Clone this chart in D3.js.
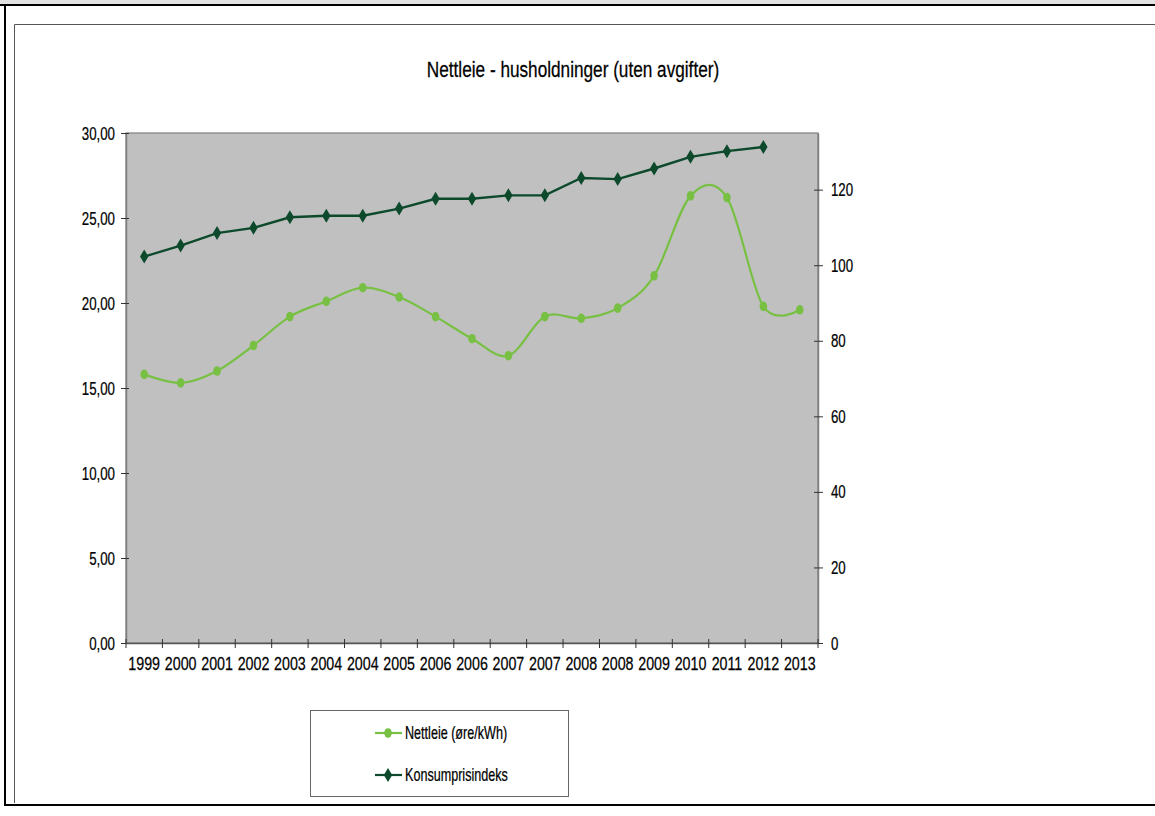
<!DOCTYPE html>
<html><head><meta charset="utf-8">
<script src="https://cdn.jsdelivr.net/npm/d3@7"></script>
<style>
html,body{margin:0;padding:0;background:#fff;}
svg{display:block;font-family:"Liberation Sans",Arial,sans-serif;}
text{stroke:#000;stroke-width:0.25px;fill:#000;}
</style></head>
<body>
<svg id="c" width="1155" height="816"></svg>
<script>
const title = "Nettleie - husholdninger (uten avgifter)";
const years = ["1999","2000","2001","2002","2003","2004","2004","2005","2006","2006","2007","2007","2008","2008","2009","2010","2011","2012","2013"];
const nettleie = [15.8,15.3,16.0,17.5,19.2,20.1,20.9,20.35,19.2,17.9,16.9,19.2,19.1,19.7,21.6,26.3,26.2,19.8,19.6];
const kpi = [102.3,105.2,108.5,109.9,112.7,113.1,113.1,115.0,117.6,117.6,118.5,118.5,123.1,122.8,125.6,128.7,130.2,131.3,null];
const leftTicks = [0,5,10,15,20,25,30];
const rightTicks = [0,20,40,60,80,100,120];
const seriesNames = ["Nettleie (øre/kWh)","Konsumprisindeks"];

const light = "#78c043", dark = "#0d4a2c", axisCol = "#7f7f7f";
const SX = 0.7, SXB = 0.75;
const svg = d3.select("#c");

// frame
svg.append("rect").attr("x",0).attr("y",0).attr("width",1155).attr("height",4).attr("fill","#e3e3e3");
svg.append("line").attr("x1",0).attr("x2",1155).attr("y1",5).attr("y2",5).attr("stroke","#000").attr("stroke-width",2);
svg.append("line").attr("x1",5).attr("x2",5).attr("y1",4).attr("y2",806).attr("stroke","#000").attr("stroke-width",2);
svg.append("line").attr("x1",4).attr("x2",1155).attr("y1",805).attr("y2",805).attr("stroke","#000").attr("stroke-width",2);
svg.append("path").attr("d","M1156,24.5H14.5V803").attr("fill","none").attr("stroke","#555").attr("stroke-width",1);

const X0=126, X1=818, Y0=133, Y1=643;
const x = d3.scaleBand().domain(d3.range(years.length)).range([X0,X1]).padding(0);
const yL = d3.scaleLinear().domain([0,30]).range([Y1,Y0]);
const yR = d3.scaleLinear().domain([0,135]).range([Y1,Y0]);
const fmt = d => d.toFixed(2).replace(".",",");

svg.append("rect").attr("x",X0).attr("y",Y0).attr("width",X1-X0).attr("height",Y1-Y0)
  .attr("fill","#c0c0c0").attr("stroke",axisCol).attr("stroke-width",1.2);

// title
svg.append("text").attr("transform",`translate(573,77) scale(0.8,1)`).attr("text-anchor","middle")
  .attr("font-size",21.5).text(title);

// left axis
const gl = svg.append("g").attr("transform",`translate(${X0},0)`)
  .call(d3.axisLeft(yL).tickValues(leftTicks).tickFormat(fmt).tickSizeInner(5).tickSizeOuter(0));
gl.select(".domain").attr("stroke",axisCol).attr("stroke-width",1.5);
gl.selectAll(".tick line").attr("stroke","#333").attr("x2",-5).attr("x1",3);
gl.selectAll(".tick text").attr("font-size",19).attr("font-family","Liberation Sans, Arial, sans-serif")
  .attr("fill","#000").attr("x",-11/SX).attr("transform",`scale(${SX},1)`);

// right axis
const gr = svg.append("g").attr("transform",`translate(${X1},0)`)
  .call(d3.axisRight(yR).tickValues(rightTicks).tickSizeInner(5).tickSizeOuter(0));
gr.select(".domain").attr("stroke",axisCol).attr("stroke-width",1.5);
gr.selectAll(".tick line").attr("stroke","#333").attr("x1",-4).attr("x2",5);
gr.selectAll(".tick text").attr("font-size",19).attr("font-family","Liberation Sans, Arial, sans-serif")
  .attr("fill","#000").attr("x",13/SX).attr("transform",`scale(${SX},1)`);

// bottom axis
const gb = svg.append("g").attr("transform",`translate(0,${Y1})`)
  .call(d3.axisBottom(x).tickFormat(i => years[i]).tickSize(0).tickPadding(14));
gb.select(".domain").attr("stroke","#555").attr("stroke-width",1.5);
gb.selectAll(".tick text").attr("font-size",19).attr("font-family","Liberation Sans, Arial, sans-serif")
  .attr("fill","#000");
gb.selectAll(".tick").each(function(i){
  const cx = x(i)+x.bandwidth()/2;
  d3.select(this).attr("transform",`translate(${cx},0)`);
  d3.select(this).select("text").attr("transform",`scale(${SXB},1)`);
});
gb.selectAll(".bt").data(d3.range(years.length+1)).join("line").attr("class","bt")
  .attr("x1",i=>X0+i*x.step()).attr("x2",i=>X0+i*x.step()).attr("y1",-4).attr("y2",5)
  .attr("stroke","#333").attr("stroke-width",1);

const cxf = i => x(i)+x.bandwidth()/2;

// lines
const lineL = d3.line().x((d,i)=>cxf(i)).y(d=>yL(d)).curve(d3.curveCardinal.tension(0));
svg.append("path").datum(nettleie).attr("d",lineL).attr("fill","none").attr("stroke",light).attr("stroke-width",2.2);
const lineR = d3.line().defined(d=>d!=null).x((d,i)=>cxf(i)).y(d=>yR(d));
svg.append("path").datum(kpi).attr("d",lineR).attr("fill","none").attr("stroke",dark).attr("stroke-width",2.4);

const diamond = (w,h) => `M0,${-h}L${w},0L0,${h}L${-w},0Z`;
svg.selectAll(".pL").data(nettleie).join("ellipse").attr("class","pL")
  .attr("cx",(d,i)=>cxf(i)).attr("cy",d=>yL(d)).attr("rx",3.8).attr("ry",4.8).attr("fill",light);
svg.selectAll(".pR").data(kpi.map((v,i)=>({v,i})).filter(d=>d.v!=null)).join("path").attr("class","pR")
  .attr("transform",d=>`translate(${cxf(d.i)},${yR(d.v)})`).attr("d",diamond(4.2,7)).attr("fill",dark);

// legend
const lg = svg.append("g");
lg.append("rect").attr("x",310.5).attr("y",710.5).attr("width",258).attr("height",86)
  .attr("fill","#fff").attr("stroke","#666").attr("stroke-width",1);
const items = [{n:seriesNames[0],c:light,t:"c",y:733},{n:seriesNames[1],c:dark,t:"d",y:775}];
items.forEach(it=>{
  lg.append("line").attr("x1",375).attr("x2",402).attr("y1",it.y).attr("y2",it.y).attr("stroke",it.c).attr("stroke-width",2.2);
  if(it.t==="c") lg.append("ellipse").attr("cx",388).attr("cy",it.y).attr("rx",3.8).attr("ry",4.8).attr("fill",it.c);
  else lg.append("path").attr("transform",`translate(388,${it.y})`).attr("d",diamond(4.2,7)).attr("fill",it.c);
  lg.append("text").attr("transform",`translate(405,${it.y+6}) scale(0.72,1)`).attr("font-size",17.5)
    .text(it.n);
});
</script>
</body></html>
